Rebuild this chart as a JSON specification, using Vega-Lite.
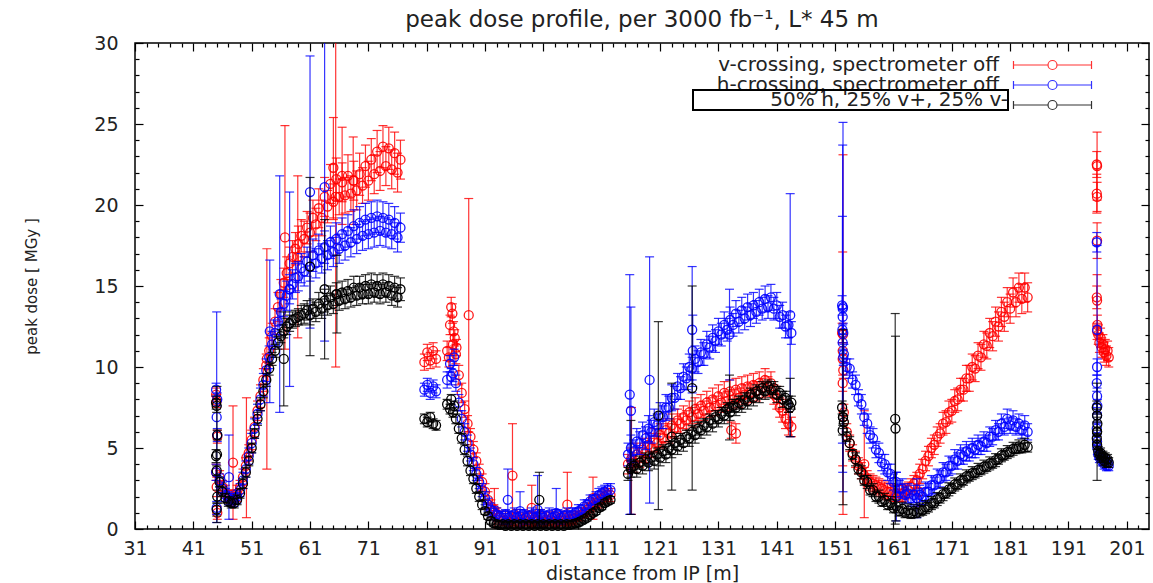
{
"$schema":"https://vega.github.io/schema/vega-lite/v6.json",
"width":1014,"height":486,
"autosize":{"type":"none"},
"padding":{"left":135,"top":43,"right":4,"bottom":54},
"background":"white",
"title":{"text":"peak dose profile, per 3000 fb⁻¹, L* 45 m","anchor":"middle","frame":"group","baseline":"alphabetic","offset":-16,"fontSize":23,"font":"DejaVu Sans","fontWeight":"normal","color":"#222"},
"data":{"values":[
{"d":44.9,"s":"v","y":8.3,"e":0.4},{"d":45,"s":"v","y":7.9,"e":0.4},{"d":45.1,"s":"v","y":5.7,"e":0.4},{"d":44.9,"s":"v","y":3.5,"e":0.5},{"d":45,"s":"v","y":2.6,"e":0.6},{"d":45.1,"s":"v","y":1,"e":0.4},
{"d":45.5,"s":"v","y":3.2,"e":0.4},{"d":46,"s":"v","y":2.6,"e":0.4},{"d":46.5,"s":"v","y":2.2,"e":0.5},{"d":47,"s":"v","y":2.0,"e":0.4},{"d":47.5,"s":"v","y":1.9,"e":0.5},{"d":48,"s":"v","y":2.0,"e":0.4},{"d":48.5,"s":"v","y":2.2,"e":0.5},{"d":49,"s":"v","y":2.6,"e":0.4},{"d":49.5,"s":"v","y":3.2,"e":0.5},{"d":50,"s":"v","y":3.9,"e":0.5},{"d":50.5,"s":"v","y":4.7,"e":0.5},{"d":51,"s":"v","y":5.5,"e":0.6},{"d":51.5,"s":"v","y":6.3,"e":0.6},{"d":52,"s":"v","y":7.3,"e":0.6},{"d":52.5,"s":"v","y":8.2,"e":0.7},{"d":53,"s":"v","y":9.2,"e":0.7},{"d":53.5,"s":"v","y":10.1,"e":0.7},{"d":54,"s":"v","y":11.0,"e":0.8},{"d":54.5,"s":"v","y":11.9,"e":0.8},{"d":55,"s":"v","y":12.8,"e":0.8},{"d":55.5,"s":"v","y":13.7,"e":0.9},{"d":56,"s":"v","y":14.5,"e":0.9},{"d":56.5,"s":"v","y":15.2,"e":0.9},{"d":57,"s":"v","y":15.8,"e":1.0},{"d":57.5,"s":"v","y":16.4,"e":1.0},{"d":58,"s":"v","y":16.8,"e":1.0},{"d":58.5,"s":"v","y":17.3,"e":1.0},{"d":59,"s":"v","y":17.6,"e":1.1},{"d":59.5,"s":"v","y":18.1,"e":1.0},{"d":60,"s":"v","y":17.9,"e":1.1},{"d":60.5,"s":"v","y":18.6,"e":1.0},{"d":61,"s":"v","y":18.3,"e":1.2},{"d":61.5,"s":"v","y":19.2,"e":1.1},{"d":62,"s":"v","y":18.8,"e":1.0},{"d":62.5,"s":"v","y":19.8,"e":1.2},{"d":63,"s":"v","y":19.2,"e":1.1},{"d":63.5,"s":"v","y":20.5,"e":1.2},{"d":64,"s":"v","y":19.9,"e":1.0},{"d":64.5,"s":"v","y":21.3,"e":1.2},{"d":65,"s":"v","y":20.2,"e":1.1},{"d":65.5,"s":"v","y":21.6,"e":1.3},{"d":66,"s":"v","y":20.5,"e":1.1},{"d":66.5,"s":"v","y":21.4,"e":1.2},{"d":67,"s":"v","y":20.6,"e":1.1},{"d":67.5,"s":"v","y":21.8,"e":1.3},{"d":68,"s":"v","y":20.7,"e":1.1},{"d":68.5,"s":"v","y":21.5,"e":1.2},{"d":69,"s":"v","y":20.9,"e":1.2},{"d":69.5,"s":"v","y":21.9,"e":1.3},{"d":70,"s":"v","y":21.2,"e":1.1},{"d":70.5,"s":"v","y":22.4,"e":1.3},{"d":71,"s":"v","y":21.5,"e":1.2},{"d":71.5,"s":"v","y":22.8,"e":1.3},{"d":72,"s":"v","y":21.9,"e":1.2},{"d":72.5,"s":"v","y":23.3,"e":1.3},{"d":73,"s":"v","y":22.1,"e":1.2},{"d":73.5,"s":"v","y":23.6,"e":1.3},{"d":74,"s":"v","y":22.4,"e":1.2},{"d":74.5,"s":"v","y":23.5,"e":1.3},{"d":75,"s":"v","y":22.2,"e":1.2},{"d":75.5,"s":"v","y":23.2,"e":1.3},{"d":76,"s":"v","y":22.0,"e":1.2},{"d":76.5,"s":"v","y":22.8,"e":1.2},
{"d":47.8,"s":"v","y":4.1,"e":3.5},{"d":50.1,"s":"v","y":4.4,"e":3.7},{"d":53.6,"s":"v","y":10.5,"e":6.8},{"d":56.7,"s":"v","y":18.0,"e":6.9},{"d":58.9,"s":"v","y":16.8,"e":5.0},{"d":65,"s":"v","y":22.3,"e":3.1},{"d":65.4,"s":"v","y":20.5,"e":10.5},{"d":66.5,"s":"v","y":21.8,"e":3.0},{"d":68.4,"s":"v","y":21.5,"e":2.7},
{"d":80.6,"s":"v","y":10.3,"e":0.5},{"d":81.1,"s":"v","y":10.9,"e":0.5},{"d":81.6,"s":"v","y":10.4,"e":0.5},{"d":82.1,"s":"v","y":11.0,"e":0.5},{"d":82.6,"s":"v","y":10.5,"e":0.5},
{"d":84.5,"s":"v","y":11.0,"e":0.6},{"d":85,"s":"v","y":12.6,"e":0.6},{"d":85.5,"s":"v","y":11.4,"e":0.6},{"d":86,"s":"v","y":10.8,"e":0.6},{"d":86.5,"s":"v","y":9.5,"e":0.6},{"d":87,"s":"v","y":8.4,"e":0.6},{"d":87.5,"s":"v","y":7.4,"e":0.5},{"d":88,"s":"v","y":6.5,"e":0.5},{"d":88.5,"s":"v","y":5.7,"e":0.5},{"d":89,"s":"v","y":4.9,"e":0.5},{"d":89.5,"s":"v","y":4.2,"e":0.5},{"d":90,"s":"v","y":3.5,"e":0.5},{"d":90.5,"s":"v","y":2.9,"e":0.5},{"d":91,"s":"v","y":2.3,"e":0.5},{"d":91.5,"s":"v","y":1.8,"e":0.5},{"d":92,"s":"v","y":1.4,"e":0.4},{"d":92.5,"s":"v","y":1.1,"e":0.4},{"d":93,"s":"v","y":0.9,"e":0.4},{"d":93.5,"s":"v","y":0.7,"e":0.4},{"d":94,"s":"v","y":0.5,"e":0.3},{"d":94.5,"s":"v","y":0.7,"e":0.4},{"d":95,"s":"v","y":0.4,"e":0.3},{"d":95.5,"s":"v","y":0.6,"e":0.4},{"d":96,"s":"v","y":0.5,"e":0.3},{"d":96.5,"s":"v","y":0.8,"e":0.4},{"d":97,"s":"v","y":0.4,"e":0.3},{"d":97.5,"s":"v","y":0.6,"e":0.4},{"d":98,"s":"v","y":0.5,"e":0.3},{"d":98.5,"s":"v","y":0.7,"e":0.4},{"d":99,"s":"v","y":0.4,"e":0.3},{"d":99.5,"s":"v","y":0.6,"e":0.4},{"d":100,"s":"v","y":0.5,"e":0.3},{"d":100.5,"s":"v","y":0.8,"e":0.4},{"d":101,"s":"v","y":0.4,"e":0.3},{"d":101.5,"s":"v","y":0.6,"e":0.4},{"d":102,"s":"v","y":0.5,"e":0.3},{"d":102.5,"s":"v","y":0.7,"e":0.4},{"d":103,"s":"v","y":0.4,"e":0.3},{"d":103.5,"s":"v","y":0.6,"e":0.4},{"d":104,"s":"v","y":0.5,"e":0.3},{"d":104.5,"s":"v","y":0.7,"e":0.4},{"d":105,"s":"v","y":0.5,"e":0.3},{"d":105.5,"s":"v","y":0.6,"e":0.4},{"d":106,"s":"v","y":0.6,"e":0.3},{"d":106.5,"s":"v","y":0.7,"e":0.4},{"d":107,"s":"v","y":0.8,"e":0.3},{"d":107.5,"s":"v","y":0.9,"e":0.4},{"d":108,"s":"v","y":1.0,"e":0.3},{"d":108.5,"s":"v","y":1.2,"e":0.4},{"d":109,"s":"v","y":1.3,"e":0.3},{"d":109.5,"s":"v","y":1.5,"e":0.4},{"d":110,"s":"v","y":1.6,"e":0.3},{"d":110.5,"s":"v","y":1.7,"e":0.4},{"d":111,"s":"v","y":1.9,"e":0.4},{"d":111.5,"s":"v","y":2.0,"e":0.4},{"d":112,"s":"v","y":2.1,"e":0.4},{"d":112.5,"s":"v","y":2.1,"e":0.4},
{"d":85.2,"s":"v","y":13.7,"e":0.6},{"d":85.4,"s":"v","y":13.3,"e":0.6},{"d":85.6,"s":"v","y":12.2,"e":0.6},{"d":85.8,"s":"v","y":11.8,"e":0.5},{"d":86.1,"s":"v","y":11.2,"e":0.5},{"d":84.8,"s":"v","y":10.6,"e":0.6},
{"d":88.2,"s":"v","y":13.2,"e":7.2},{"d":95.7,"s":"v","y":3.3,"e":3.2},{"d":105.1,"s":"v","y":1.5,"e":2.0},{"d":92.6,"s":"v","y":1.2,"e":1.3},{"d":99,"s":"v","y":1.3,"e":1.4},{"d":109.5,"s":"v","y":1.9,"e":1.3},
{"d":115.5,"s":"v","y":4.0,"e":0.6},{"d":116,"s":"v","y":4.3,"e":0.7},{"d":116.5,"s":"v","y":4.1,"e":0.6},{"d":117,"s":"v","y":4.6,"e":0.7},{"d":117.5,"s":"v","y":4.4,"e":0.6},{"d":118,"s":"v","y":4.9,"e":0.7},{"d":118.5,"s":"v","y":4.7,"e":0.6},{"d":119,"s":"v","y":5.2,"e":0.7},{"d":119.5,"s":"v","y":5.0,"e":0.6},{"d":120,"s":"v","y":5.5,"e":0.7},{"d":120.5,"s":"v","y":5.3,"e":0.6},{"d":121,"s":"v","y":5.8,"e":0.7},{"d":121.5,"s":"v","y":5.6,"e":0.6},{"d":122,"s":"v","y":6.1,"e":0.7},{"d":122.5,"s":"v","y":5.9,"e":0.6},{"d":123,"s":"v","y":6.4,"e":0.7},{"d":123.5,"s":"v","y":6.2,"e":0.6},{"d":124,"s":"v","y":6.7,"e":0.7},{"d":124.5,"s":"v","y":6.5,"e":0.6},{"d":125,"s":"v","y":6.9,"e":0.7},{"d":125.5,"s":"v","y":6.7,"e":0.6},{"d":126,"s":"v","y":7.2,"e":0.7},{"d":126.5,"s":"v","y":6.9,"e":0.6},{"d":127,"s":"v","y":7.4,"e":0.7},{"d":127.5,"s":"v","y":7.1,"e":0.6},{"d":128,"s":"v","y":7.6,"e":0.7},{"d":128.5,"s":"v","y":7.3,"e":0.6},{"d":129,"s":"v","y":7.8,"e":0.7},{"d":129.5,"s":"v","y":7.5,"e":0.6},{"d":130,"s":"v","y":8.0,"e":0.7},{"d":130.5,"s":"v","y":7.6,"e":0.6},{"d":131,"s":"v","y":8.2,"e":0.7},{"d":131.5,"s":"v","y":7.8,"e":0.6},{"d":132,"s":"v","y":8.4,"e":0.7},{"d":132.5,"s":"v","y":7.9,"e":0.6},{"d":133,"s":"v","y":8.5,"e":0.7},{"d":133.5,"s":"v","y":8.0,"e":0.6},{"d":134,"s":"v","y":8.6,"e":0.7},{"d":134.5,"s":"v","y":8.1,"e":0.6},{"d":135,"s":"v","y":8.7,"e":0.7},{"d":135.5,"s":"v","y":8.3,"e":0.6},{"d":136,"s":"v","y":8.8,"e":0.7},{"d":136.5,"s":"v","y":8.4,"e":0.6},{"d":137,"s":"v","y":8.9,"e":0.7},{"d":137.5,"s":"v","y":8.5,"e":0.6},{"d":138,"s":"v","y":9.0,"e":0.7},{"d":138.5,"s":"v","y":8.7,"e":0.6},{"d":139,"s":"v","y":9.2,"e":0.7},{"d":139.5,"s":"v","y":8.8,"e":0.6},{"d":140,"s":"v","y":9.0,"e":0.7},{"d":140.5,"s":"v","y":8.3,"e":0.6},{"d":141,"s":"v","y":8.1,"e":0.7},{"d":141.5,"s":"v","y":7.5,"e":0.6},{"d":142,"s":"v","y":7.3,"e":0.7},{"d":142.5,"s":"v","y":6.8,"e":0.6},{"d":143,"s":"v","y":6.5,"e":0.7},{"d":143.5,"s":"v","y":6.3,"e":0.6},
{"d":133.2,"s":"v","y":6.1,"e":0.5},{"d":134,"s":"v","y":5.9,"e":0.6},{"d":116.1,"s":"v","y":4.2,"e":3.3},
{"d":152.2,"s":"v","y":12.1,"e":0.6},{"d":152.3,"s":"v","y":11.0,"e":0.5},{"d":152.4,"s":"v","y":9.8,"e":0.5},{"d":152.3,"s":"v","y":9.0,"e":0.5},{"d":152.35,"s":"v","y":12.0,"e":11.1},{"d":152.3,"s":"v","y":10.5,"e":6.6},
{"d":152.5,"s":"v","y":7.2,"e":0.5},{"d":153,"s":"v","y":6.0,"e":0.5},{"d":153.5,"s":"v","y":5.3,"e":0.5},{"d":154,"s":"v","y":4.7,"e":0.5},{"d":154.5,"s":"v","y":4.3,"e":0.5},{"d":155,"s":"v","y":3.9,"e":0.5},{"d":155.5,"s":"v","y":3.6,"e":0.5},{"d":156,"s":"v","y":3.3,"e":0.5},{"d":156.5,"s":"v","y":3.1,"e":0.5},{"d":157,"s":"v","y":2.9,"e":0.5},{"d":157.5,"s":"v","y":2.8,"e":0.5},{"d":158,"s":"v","y":2.7,"e":0.5},{"d":158.5,"s":"v","y":2.6,"e":0.5},{"d":159,"s":"v","y":2.5,"e":0.5},{"d":159.5,"s":"v","y":2.4,"e":0.5},{"d":160,"s":"v","y":2.3,"e":0.5},{"d":160.5,"s":"v","y":2.3,"e":0.5},{"d":161,"s":"v","y":2.2,"e":0.5},{"d":161.5,"s":"v","y":2.2,"e":0.5},{"d":162,"s":"v","y":2.2,"e":0.5},{"d":162.5,"s":"v","y":2.2,"e":0.5},{"d":163,"s":"v","y":2.3,"e":0.5},{"d":163.5,"s":"v","y":2.4,"e":0.5},{"d":164,"s":"v","y":2.6,"e":0.5},{"d":164.5,"s":"v","y":2.8,"e":0.5},{"d":165,"s":"v","y":3.0,"e":0.5},{"d":165.5,"s":"v","y":3.4,"e":0.6},{"d":166,"s":"v","y":3.7,"e":0.6},{"d":166.5,"s":"v","y":4.2,"e":0.6},{"d":167,"s":"v","y":4.5,"e":0.6},{"d":167.5,"s":"v","y":5.0,"e":0.6},{"d":168,"s":"v","y":5.2,"e":0.6},{"d":168.5,"s":"v","y":5.7,"e":0.6},{"d":169,"s":"v","y":5.9,"e":0.6},{"d":169.5,"s":"v","y":6.5,"e":0.7},{"d":170,"s":"v","y":6.6,"e":0.7},{"d":170.5,"s":"v","y":7.2,"e":0.7},{"d":171,"s":"v","y":7.3,"e":0.7},{"d":171.5,"s":"v","y":7.9,"e":0.7},{"d":172,"s":"v","y":8.0,"e":0.7},{"d":172.5,"s":"v","y":8.6,"e":0.7},{"d":173,"s":"v","y":8.6,"e":0.7},{"d":173.5,"s":"v","y":9.3,"e":0.8},{"d":174,"s":"v","y":9.3,"e":0.8},{"d":174.5,"s":"v","y":10.0,"e":0.8},{"d":175,"s":"v","y":9.9,"e":0.8},{"d":175.5,"s":"v","y":10.7,"e":0.8},{"d":176,"s":"v","y":10.6,"e":0.8},{"d":176.5,"s":"v","y":11.4,"e":0.8},{"d":177,"s":"v","y":11.3,"e":0.8},{"d":177.5,"s":"v","y":12.1,"e":0.9},{"d":178,"s":"v","y":11.9,"e":0.9},{"d":178.5,"s":"v","y":12.8,"e":0.9},{"d":179,"s":"v","y":12.5,"e":0.9},{"d":179.5,"s":"v","y":13.4,"e":0.9},{"d":180,"s":"v","y":13.1,"e":0.9},{"d":180.5,"s":"v","y":14.0,"e":0.9},{"d":181,"s":"v","y":13.6,"e":0.9},{"d":181.5,"s":"v","y":14.6,"e":0.9},{"d":182,"s":"v","y":14.0,"e":0.9},{"d":182.5,"s":"v","y":14.9,"e":0.9},{"d":183,"s":"v","y":14.2,"e":0.9},{"d":183.5,"s":"v","y":14.9,"e":0.9},{"d":184,"s":"v","y":14.3,"e":0.9},
{"d":156,"s":"v","y":4.0,"e":3.3},{"d":165.4,"s":"v","y":2.3,"e":0.9},
{"d":195.85,"s":"v","y":22.5,"e":0.8},{"d":195.9,"s":"v","y":22.4,"e":2.1},{"d":195.85,"s":"v","y":20.7,"e":1.2},{"d":195.9,"s":"v","y":20.5,"e":0.9},{"d":195.9,"s":"v","y":17.8,"e":1.1},{"d":195.85,"s":"v","y":14.3,"e":0.7},{"d":195.9,"s":"v","y":14.1,"e":1.6},{"d":195.95,"s":"v","y":12.6,"e":0.6},{"d":195.9,"s":"v","y":12.2,"e":0.5},
{"d":196.1,"s":"v","y":12.0,"e":0.6},{"d":196.3,"s":"v","y":11.5,"e":0.6},{"d":196.5,"s":"v","y":11.8,"e":0.6},{"d":196.7,"s":"v","y":11.2,"e":0.6},{"d":196.9,"s":"v","y":11.4,"e":0.6},{"d":197.1,"s":"v","y":10.9,"e":0.6},{"d":197.3,"s":"v","y":11.1,"e":0.6},{"d":197.5,"s":"v","y":10.7,"e":0.6},{"d":197.7,"s":"v","y":11.0,"e":0.6},{"d":197.9,"s":"v","y":10.6,"e":0.6},

{"d":44.9,"s":"h","y":8.6,"e":0.4},{"d":45,"s":"h","y":6.9,"e":6.5},{"d":45.1,"s":"h","y":5.8,"e":0.4},{"d":44.9,"s":"h","y":3.5,"e":0.5},{"d":45,"s":"h","y":1.3,"e":0.4},{"d":45.1,"s":"h","y":8.0,"e":0.4},
{"d":45.5,"s":"h","y":3.0,"e":0.4},{"d":46,"s":"h","y":2.5,"e":0.4},{"d":46.5,"s":"h","y":2.1,"e":0.4},{"d":47,"s":"h","y":1.9,"e":0.4},{"d":47.5,"s":"h","y":1.8,"e":0.4},{"d":48,"s":"h","y":1.8,"e":0.4},{"d":48.5,"s":"h","y":2.0,"e":0.4},{"d":49,"s":"h","y":2.4,"e":0.4},{"d":49.5,"s":"h","y":3.0,"e":0.5},{"d":50,"s":"h","y":3.7,"e":0.5},{"d":50.5,"s":"h","y":4.5,"e":0.5},{"d":51,"s":"h","y":5.3,"e":0.6},{"d":51.5,"s":"h","y":6.2,"e":0.6},{"d":52,"s":"h","y":7.1,"e":0.6},{"d":52.5,"s":"h","y":8.0,"e":0.7},{"d":53,"s":"h","y":8.9,"e":0.7},{"d":53.5,"s":"h","y":9.8,"e":0.7},{"d":54,"s":"h","y":10.6,"e":0.7},{"d":54.5,"s":"h","y":11.4,"e":0.8},{"d":55,"s":"h","y":12.1,"e":0.8},{"d":55.5,"s":"h","y":12.8,"e":0.8},{"d":56,"s":"h","y":13.4,"e":0.8},{"d":56.5,"s":"h","y":13.9,"e":0.8},{"d":57,"s":"h","y":14.4,"e":0.9},{"d":57.5,"s":"h","y":14.8,"e":0.9},{"d":58,"s":"h","y":15.1,"e":0.9},{"d":58.5,"s":"h","y":15.5,"e":0.9},{"d":59,"s":"h","y":15.6,"e":0.9},{"d":59.5,"s":"h","y":16.1,"e":0.9},{"d":60,"s":"h","y":15.9,"e":0.9},{"d":60.5,"s":"h","y":16.5,"e":0.9},{"d":61,"s":"h","y":16.2,"e":0.9},{"d":61.5,"s":"h","y":16.9,"e":1.0},{"d":62,"s":"h","y":16.4,"e":0.9},{"d":62.5,"s":"h","y":17.2,"e":1.0},{"d":63,"s":"h","y":16.7,"e":0.9},{"d":63.5,"s":"h","y":17.4,"e":1.0},{"d":64,"s":"h","y":16.9,"e":0.9},{"d":64.5,"s":"h","y":17.7,"e":1.0},{"d":65,"s":"h","y":17.1,"e":0.9},{"d":65.5,"s":"h","y":17.9,"e":1.0},{"d":66,"s":"h","y":17.3,"e":0.9},{"d":66.5,"s":"h","y":18.2,"e":1.0},{"d":67,"s":"h","y":17.5,"e":0.9},{"d":67.5,"s":"h","y":18.4,"e":1.0},{"d":68,"s":"h","y":17.7,"e":0.9},{"d":68.5,"s":"h","y":18.7,"e":1.0},{"d":69,"s":"h","y":17.9,"e":0.9},{"d":69.5,"s":"h","y":18.9,"e":1.0},{"d":70,"s":"h","y":18.1,"e":0.9},{"d":70.5,"s":"h","y":19.1,"e":1.0},{"d":71,"s":"h","y":18.2,"e":0.9},{"d":71.5,"s":"h","y":19.2,"e":1.0},{"d":72,"s":"h","y":18.3,"e":0.9},{"d":72.5,"s":"h","y":19.3,"e":1.0},{"d":73,"s":"h","y":18.4,"e":0.9},{"d":73.5,"s":"h","y":19.2,"e":1.0},{"d":74,"s":"h","y":18.3,"e":0.9},{"d":74.5,"s":"h","y":19.1,"e":1.0},{"d":75,"s":"h","y":18.2,"e":0.9},{"d":75.5,"s":"h","y":18.9,"e":1.0},{"d":76,"s":"h","y":18.0,"e":0.9},{"d":76.5,"s":"h","y":18.6,"e":0.9},
{"d":47.1,"s":"h","y":3.2,"e":2.6},{"d":54.1,"s":"h","y":12.2,"e":4.4},{"d":55.8,"s":"h","y":14.5,"e":7.3},{"d":57.5,"s":"h","y":14.8,"e":6.0},{"d":61,"s":"h","y":20.8,"e":8.4},{"d":63.5,"s":"h","y":21.1,"e":9.5},
{"d":80.6,"s":"h","y":8.6,"e":0.4},{"d":81.1,"s":"h","y":8.9,"e":0.4},{"d":81.6,"s":"h","y":8.4,"e":0.4},{"d":82.1,"s":"h","y":8.8,"e":0.4},{"d":82.6,"s":"h","y":8.5,"e":0.4},
{"d":84.5,"s":"h","y":9.2,"e":0.5},{"d":85,"s":"h","y":10.2,"e":0.5},{"d":85.5,"s":"h","y":9.6,"e":0.5},{"d":86,"s":"h","y":9.0,"e":0.5},{"d":86.5,"s":"h","y":7.8,"e":0.5},{"d":87,"s":"h","y":6.8,"e":0.5},{"d":87.5,"s":"h","y":6.0,"e":0.5},{"d":88,"s":"h","y":5.3,"e":0.5},{"d":88.5,"s":"h","y":4.6,"e":0.4},{"d":89,"s":"h","y":4.0,"e":0.4},{"d":89.5,"s":"h","y":3.4,"e":0.4},{"d":90,"s":"h","y":2.9,"e":0.4},{"d":90.5,"s":"h","y":2.4,"e":0.4},{"d":91,"s":"h","y":1.9,"e":0.4},{"d":91.5,"s":"h","y":1.5,"e":0.4},{"d":92,"s":"h","y":1.2,"e":0.4},{"d":92.5,"s":"h","y":1.0,"e":0.4},{"d":93,"s":"h","y":0.9,"e":0.4},{"d":93.5,"s":"h","y":0.8,"e":0.3},{"d":94,"s":"h","y":0.7,"e":0.4},{"d":94.5,"s":"h","y":0.9,"e":0.3},{"d":95,"s":"h","y":0.7,"e":0.4},{"d":95.5,"s":"h","y":0.8,"e":0.3},{"d":96,"s":"h","y":0.9,"e":0.4},{"d":96.5,"s":"h","y":0.7,"e":0.3},{"d":97,"s":"h","y":0.8,"e":0.4},{"d":97.5,"s":"h","y":0.9,"e":0.3},{"d":98,"s":"h","y":0.7,"e":0.4},{"d":98.5,"s":"h","y":0.8,"e":0.3},{"d":99,"s":"h","y":0.9,"e":0.4},{"d":99.5,"s":"h","y":0.7,"e":0.3},{"d":100,"s":"h","y":0.8,"e":0.4},{"d":100.5,"s":"h","y":0.9,"e":0.3},{"d":101,"s":"h","y":0.7,"e":0.4},{"d":101.5,"s":"h","y":0.8,"e":0.3},{"d":102,"s":"h","y":0.9,"e":0.4},{"d":102.5,"s":"h","y":0.7,"e":0.3},{"d":103,"s":"h","y":0.8,"e":0.4},{"d":103.5,"s":"h","y":0.9,"e":0.3},{"d":104,"s":"h","y":0.7,"e":0.4},{"d":104.5,"s":"h","y":0.8,"e":0.3},{"d":105,"s":"h","y":0.9,"e":0.4},{"d":105.5,"s":"h","y":0.8,"e":0.3},{"d":106,"s":"h","y":0.9,"e":0.4},{"d":106.5,"s":"h","y":1.0,"e":0.3},{"d":107,"s":"h","y":1.1,"e":0.4},{"d":107.5,"s":"h","y":1.2,"e":0.3},{"d":108,"s":"h","y":1.4,"e":0.4},{"d":108.5,"s":"h","y":1.5,"e":0.3},{"d":109,"s":"h","y":1.7,"e":0.4},{"d":109.5,"s":"h","y":1.8,"e":0.3},{"d":110,"s":"h","y":1.9,"e":0.4},{"d":110.5,"s":"h","y":2.1,"e":0.4},{"d":111,"s":"h","y":2.2,"e":0.4},{"d":111.5,"s":"h","y":2.3,"e":0.4},{"d":112,"s":"h","y":2.4,"e":0.4},{"d":112.5,"s":"h","y":2.4,"e":0.4},
{"d":85.2,"s":"h","y":9.4,"e":0.5},{"d":85.7,"s":"h","y":10.6,"e":0.5},
{"d":94.9,"s":"h","y":1.8,"e":1.9},{"d":100,"s":"h","y":1.2,"e":2.1},{"d":103.2,"s":"h","y":1.0,"e":1.5},{"d":97,"s":"h","y":1.1,"e":1.2},
{"d":115.5,"s":"h","y":4.6,"e":0.7},{"d":116,"s":"h","y":5.0,"e":0.8},{"d":116.5,"s":"h","y":4.8,"e":0.7},{"d":117,"s":"h","y":5.4,"e":0.8},{"d":117.5,"s":"h","y":5.3,"e":0.7},{"d":118,"s":"h","y":5.8,"e":0.8},{"d":118.5,"s":"h","y":5.6,"e":0.7},{"d":119,"s":"h","y":6.2,"e":0.8},{"d":119.5,"s":"h","y":6.0,"e":0.7},{"d":120,"s":"h","y":6.6,"e":0.8},{"d":120.5,"s":"h","y":6.4,"e":0.7},{"d":121,"s":"h","y":7.0,"e":0.8},{"d":121.5,"s":"h","y":6.9,"e":0.7},{"d":122,"s":"h","y":7.5,"e":0.8},{"d":122.5,"s":"h","y":7.5,"e":0.7},{"d":123,"s":"h","y":8.1,"e":0.8},{"d":123.5,"s":"h","y":8.1,"e":0.7},{"d":124,"s":"h","y":8.8,"e":0.8},{"d":124.5,"s":"h","y":8.7,"e":0.7},{"d":125,"s":"h","y":9.4,"e":0.8},{"d":125.5,"s":"h","y":9.3,"e":0.7},{"d":126,"s":"h","y":10.0,"e":0.8},{"d":126.5,"s":"h","y":9.9,"e":0.7},{"d":127,"s":"h","y":10.5,"e":0.8},{"d":127.5,"s":"h","y":10.3,"e":0.7},{"d":128,"s":"h","y":10.9,"e":0.8},{"d":128.5,"s":"h","y":10.8,"e":0.7},{"d":129,"s":"h","y":11.4,"e":0.8},{"d":129.5,"s":"h","y":11.2,"e":0.7},{"d":130,"s":"h","y":11.8,"e":0.8},{"d":130.5,"s":"h","y":11.6,"e":0.7},{"d":131,"s":"h","y":12.2,"e":0.8},{"d":131.5,"s":"h","y":12.0,"e":0.7},{"d":132,"s":"h","y":12.6,"e":0.8},{"d":132.5,"s":"h","y":12.3,"e":0.7},{"d":133,"s":"h","y":12.9,"e":0.8},{"d":133.5,"s":"h","y":12.6,"e":0.7},{"d":134,"s":"h","y":13.3,"e":0.8},{"d":134.5,"s":"h","y":12.8,"e":0.7},{"d":135,"s":"h","y":13.5,"e":0.8},{"d":135.5,"s":"h","y":13.0,"e":0.7},{"d":136,"s":"h","y":13.7,"e":0.8},{"d":136.5,"s":"h","y":13.2,"e":0.7},{"d":137,"s":"h","y":13.8,"e":0.8},{"d":137.5,"s":"h","y":13.4,"e":0.7},{"d":138,"s":"h","y":14.0,"e":0.8},{"d":138.5,"s":"h","y":13.6,"e":0.7},{"d":139,"s":"h","y":14.2,"e":0.8},{"d":139.5,"s":"h","y":13.7,"e":0.7},{"d":140,"s":"h","y":14.3,"e":0.8},{"d":140.5,"s":"h","y":13.6,"e":0.7},{"d":141,"s":"h","y":13.8,"e":0.8},{"d":141.5,"s":"h","y":13.1,"e":0.7},{"d":142,"s":"h","y":13.2,"e":0.8},{"d":142.5,"s":"h","y":12.5,"e":0.7},{"d":143,"s":"h","y":12.6,"e":0.8},{"d":143.5,"s":"h","y":12.1,"e":0.7},
{"d":115.8,"s":"h","y":8.3,"e":7.4},{"d":116,"s":"h","y":7.3,"e":6.4},{"d":119.2,"s":"h","y":9.2,"e":7.6},{"d":126.5,"s":"h","y":12.3,"e":3.9},{"d":126.6,"s":"h","y":11.0,"e":2.2},{"d":132.9,"s":"h","y":12.0,"e":2.8},{"d":143.3,"s":"h","y":13.2,"e":7.5},
{"d":152.2,"s":"h","y":13.8,"e":0.6},{"d":152.3,"s":"h","y":13.1,"e":0.5},{"d":152.4,"s":"h","y":12.1,"e":0.6},{"d":152.3,"s":"h","y":11.5,"e":0.5},{"d":152.4,"s":"h","y":10.6,"e":0.5},{"d":152.35,"s":"h","y":13.7,"e":11.4},{"d":152.3,"s":"h","y":13.6,"e":10.1},{"d":152.25,"s":"h","y":12.3,"e":7.0},
{"d":152.5,"s":"h","y":10.8,"e":0.6},{"d":153,"s":"h","y":10.0,"e":0.5},{"d":153.5,"s":"h","y":9.9,"e":0.6},{"d":154,"s":"h","y":9.2,"e":0.5},{"d":154.5,"s":"h","y":8.9,"e":0.6},{"d":155,"s":"h","y":8.1,"e":0.5},{"d":155.5,"s":"h","y":7.7,"e":0.6},{"d":156,"s":"h","y":6.9,"e":0.5},{"d":156.5,"s":"h","y":6.5,"e":0.6},{"d":157,"s":"h","y":5.8,"e":0.5},{"d":157.5,"s":"h","y":5.6,"e":0.6},{"d":158,"s":"h","y":4.9,"e":0.5},{"d":158.5,"s":"h","y":4.7,"e":0.6},{"d":159,"s":"h","y":4.1,"e":0.5},{"d":159.5,"s":"h","y":4.0,"e":0.6},{"d":160,"s":"h","y":3.5,"e":0.5},{"d":160.5,"s":"h","y":3.4,"e":0.6},{"d":161,"s":"h","y":2.9,"e":0.5},{"d":161.5,"s":"h","y":2.9,"e":0.6},{"d":162,"s":"h","y":2.5,"e":0.5},{"d":162.5,"s":"h","y":2.5,"e":0.6},{"d":163,"s":"h","y":2.1,"e":0.5},{"d":163.5,"s":"h","y":2.2,"e":0.6},{"d":164,"s":"h","y":1.9,"e":0.5},{"d":164.5,"s":"h","y":2.1,"e":0.6},{"d":165,"s":"h","y":1.9,"e":0.5},{"d":165.5,"s":"h","y":2.1,"e":0.6},{"d":166,"s":"h","y":2.0,"e":0.5},{"d":166.5,"s":"h","y":2.3,"e":0.6},{"d":167,"s":"h","y":2.3,"e":0.5},{"d":167.5,"s":"h","y":2.7,"e":0.6},{"d":168,"s":"h","y":2.7,"e":0.5},{"d":168.5,"s":"h","y":3.1,"e":0.6},{"d":169,"s":"h","y":3.1,"e":0.5},{"d":169.5,"s":"h","y":3.5,"e":0.6},{"d":170,"s":"h","y":3.5,"e":0.5},{"d":170.5,"s":"h","y":3.9,"e":0.6},{"d":171,"s":"h","y":3.9,"e":0.5},{"d":171.5,"s":"h","y":4.3,"e":0.6},{"d":172,"s":"h","y":4.2,"e":0.5},{"d":172.5,"s":"h","y":4.6,"e":0.6},{"d":173,"s":"h","y":4.5,"e":0.5},{"d":173.5,"s":"h","y":4.8,"e":0.6},{"d":174,"s":"h","y":4.7,"e":0.5},{"d":174.5,"s":"h","y":5.0,"e":0.6},{"d":175,"s":"h","y":4.9,"e":0.5},{"d":175.5,"s":"h","y":5.2,"e":0.6},{"d":176,"s":"h","y":5.1,"e":0.5},{"d":176.5,"s":"h","y":5.4,"e":0.6},{"d":177,"s":"h","y":5.3,"e":0.5},{"d":177.5,"s":"h","y":5.7,"e":0.6},{"d":178,"s":"h","y":5.7,"e":0.5},{"d":178.5,"s":"h","y":6.1,"e":0.6},{"d":179,"s":"h","y":6.0,"e":0.5},{"d":179.5,"s":"h","y":6.5,"e":0.6},{"d":180,"s":"h","y":6.3,"e":0.5},{"d":180.5,"s":"h","y":6.8,"e":0.6},{"d":181,"s":"h","y":6.4,"e":0.5},{"d":181.5,"s":"h","y":6.7,"e":0.6},{"d":182,"s":"h","y":6.3,"e":0.5},{"d":182.5,"s":"h","y":6.5,"e":0.6},{"d":183,"s":"h","y":6.1,"e":0.5},{"d":183.5,"s":"h","y":6.4,"e":0.6},{"d":184,"s":"h","y":6.0,"e":0.5},
{"d":161.5,"s":"h","y":2.0,"e":1.5},{"d":165,"s":"h","y":1.9,"e":1.2},
{"d":195.85,"s":"h","y":17.7,"e":0.6},{"d":195.9,"s":"h","y":12.3,"e":5.2},{"d":195.9,"s":"h","y":10.0,"e":0.5},{"d":195.85,"s":"h","y":9.0,"e":0.5},{"d":195.9,"s":"h","y":8.2,"e":0.5},{"d":195.95,"s":"h","y":7.6,"e":0.4},{"d":195.9,"s":"h","y":7.0,"e":0.5},{"d":195.85,"s":"h","y":6.2,"e":0.4},{"d":195.9,"s":"h","y":5.4,"e":0.4},{"d":195.95,"s":"h","y":5.0,"e":0.4},
{"d":196.1,"s":"h","y":4.6,"e":0.3},{"d":196.3,"s":"h","y":4.4,"e":0.3},{"d":196.5,"s":"h","y":4.5,"e":0.3},{"d":196.7,"s":"h","y":4.2,"e":0.3},{"d":196.9,"s":"h","y":4.3,"e":0.3},{"d":197.1,"s":"h","y":4.0,"e":0.3},{"d":197.3,"s":"h","y":4.2,"e":0.3},{"d":197.5,"s":"h","y":3.9,"e":0.3},{"d":197.7,"s":"h","y":4.1,"e":0.3},{"d":197.9,"s":"h","y":3.9,"e":0.3},

{"d":44.9,"s":"b","y":7.8,"e":0.4},{"d":45,"s":"b","y":7.6,"e":0.4},{"d":45.1,"s":"b","y":5.8,"e":0.3},{"d":44.9,"s":"b","y":4.5,"e":0.4},{"d":45,"s":"b","y":3.6,"e":0.3},{"d":45.1,"s":"b","y":2.0,"e":0.4},{"d":45,"s":"b","y":1.2,"e":0.4},{"d":45.05,"s":"b","y":4.6,"e":4.2},
{"d":45.5,"s":"b","y":2.9,"e":0.3},{"d":46,"s":"b","y":2.3,"e":0.3},{"d":46.5,"s":"b","y":1.9,"e":0.3},{"d":47,"s":"b","y":1.7,"e":0.3},{"d":47.5,"s":"b","y":1.6,"e":0.3},{"d":48,"s":"b","y":1.6,"e":0.3},{"d":48.5,"s":"b","y":1.8,"e":0.3},{"d":49,"s":"b","y":2.2,"e":0.3},{"d":49.5,"s":"b","y":2.8,"e":0.3},{"d":50,"s":"b","y":3.5,"e":0.3},{"d":50.5,"s":"b","y":4.2,"e":0.3},{"d":51,"s":"b","y":5.0,"e":0.3},{"d":51.5,"s":"b","y":5.9,"e":0.3},{"d":52,"s":"b","y":6.8,"e":0.4},{"d":52.5,"s":"b","y":7.7,"e":0.4},{"d":53,"s":"b","y":8.5,"e":0.4},{"d":53.5,"s":"b","y":9.2,"e":0.4},{"d":54,"s":"b","y":9.9,"e":0.4},{"d":54.5,"s":"b","y":10.5,"e":0.4},{"d":55,"s":"b","y":11.0,"e":0.4},{"d":55.5,"s":"b","y":11.5,"e":0.4},{"d":56,"s":"b","y":11.9,"e":0.4},{"d":56.5,"s":"b","y":12.2,"e":0.4},{"d":57,"s":"b","y":12.5,"e":0.5},{"d":57.5,"s":"b","y":12.7,"e":0.5},{"d":58,"s":"b","y":12.9,"e":0.5},{"d":58.5,"s":"b","y":13.0,"e":0.5},{"d":59,"s":"b","y":13.1,"e":0.5},{"d":59.5,"s":"b","y":13.2,"e":0.6},{"d":60,"s":"b","y":13.3,"e":0.6},{"d":60.5,"s":"b","y":13.5,"e":0.6},{"d":61,"s":"b","y":13.2,"e":0.6},{"d":61.5,"s":"b","y":13.6,"e":0.6},{"d":62,"s":"b","y":13.4,"e":0.6},{"d":62.5,"s":"b","y":13.9,"e":0.7},{"d":63,"s":"b","y":13.6,"e":0.6},{"d":63.5,"s":"b","y":14.1,"e":0.7},{"d":64,"s":"b","y":13.8,"e":0.6},{"d":64.5,"s":"b","y":14.3,"e":0.7},{"d":65,"s":"b","y":13.9,"e":0.6},{"d":65.5,"s":"b","y":14.5,"e":0.7},{"d":66,"s":"b","y":14.1,"e":0.6},{"d":66.5,"s":"b","y":14.6,"e":0.7},{"d":67,"s":"b","y":14.2,"e":0.6},{"d":67.5,"s":"b","y":14.7,"e":0.7},{"d":68,"s":"b","y":14.3,"e":0.6},{"d":68.5,"s":"b","y":14.9,"e":0.7},{"d":69,"s":"b","y":14.4,"e":0.6},{"d":69.5,"s":"b","y":14.9,"e":0.7},{"d":70,"s":"b","y":14.5,"e":0.6},{"d":70.5,"s":"b","y":15.0,"e":0.7},{"d":71,"s":"b","y":14.5,"e":0.6},{"d":71.5,"s":"b","y":15.1,"e":0.7},{"d":72,"s":"b","y":14.6,"e":0.6},{"d":72.5,"s":"b","y":15.0,"e":0.7},{"d":73,"s":"b","y":14.5,"e":0.6},{"d":73.5,"s":"b","y":15.1,"e":0.7},{"d":74,"s":"b","y":14.6,"e":0.6},{"d":74.5,"s":"b","y":15.0,"e":0.7},{"d":75,"s":"b","y":14.4,"e":0.6},{"d":75.5,"s":"b","y":14.9,"e":0.7},{"d":76,"s":"b","y":14.3,"e":0.6},{"d":76.5,"s":"b","y":14.8,"e":0.7},
{"d":61,"s":"b","y":16.2,"e":5.5},{"d":63.5,"s":"b","y":14.8,"e":4.3},{"d":65.6,"s":"b","y":14.5,"e":2.4},{"d":56.5,"s":"b","y":10.5,"e":2.9},
{"d":80.6,"s":"b","y":6.8,"e":0.3},{"d":81.1,"s":"b","y":6.6,"e":0.3},{"d":81.6,"s":"b","y":6.9,"e":0.3},{"d":82.1,"s":"b","y":6.5,"e":0.3},{"d":82.6,"s":"b","y":6.4,"e":0.3},
{"d":84.5,"s":"b","y":7.7,"e":0.3},{"d":85,"s":"b","y":7.4,"e":0.3},{"d":85.5,"s":"b","y":7.2,"e":0.3},{"d":86,"s":"b","y":6.8,"e":0.3},{"d":86.5,"s":"b","y":6.2,"e":0.3},{"d":87,"s":"b","y":5.6,"e":0.3},{"d":87.5,"s":"b","y":4.9,"e":0.3},{"d":88,"s":"b","y":4.2,"e":0.3},{"d":88.5,"s":"b","y":3.6,"e":0.3},{"d":89,"s":"b","y":3.1,"e":0.3},{"d":89.5,"s":"b","y":2.5,"e":0.3},{"d":90,"s":"b","y":2.0,"e":0.3},{"d":90.5,"s":"b","y":1.5,"e":0.3},{"d":91,"s":"b","y":1.1,"e":0.2},{"d":91.5,"s":"b","y":0.8,"e":0.2},{"d":92,"s":"b","y":0.5,"e":0.2},{"d":92.5,"s":"b","y":0.35,"e":0.2},{"d":93,"s":"b","y":0.3,"e":0.2},{"d":93.5,"s":"b","y":0.25,"e":0.2},{"d":94,"s":"b","y":0.3,"e":0.2},{"d":94.5,"s":"b","y":0.2,"e":0.2},{"d":95,"s":"b","y":0.3,"e":0.2},{"d":95.5,"s":"b","y":0.2,"e":0.2},{"d":96,"s":"b","y":0.3,"e":0.2},{"d":96.5,"s":"b","y":0.2,"e":0.2},{"d":97,"s":"b","y":0.3,"e":0.2},{"d":97.5,"s":"b","y":0.2,"e":0.2},{"d":98,"s":"b","y":0.3,"e":0.2},{"d":98.5,"s":"b","y":0.2,"e":0.2},{"d":99,"s":"b","y":0.3,"e":0.2},{"d":99.5,"s":"b","y":0.2,"e":0.2},{"d":100,"s":"b","y":0.3,"e":0.2},{"d":100.5,"s":"b","y":0.2,"e":0.2},{"d":101,"s":"b","y":0.3,"e":0.2},{"d":101.5,"s":"b","y":0.2,"e":0.2},{"d":102,"s":"b","y":0.3,"e":0.2},{"d":102.5,"s":"b","y":0.2,"e":0.2},{"d":103,"s":"b","y":0.3,"e":0.2},{"d":103.5,"s":"b","y":0.2,"e":0.2},{"d":104,"s":"b","y":0.3,"e":0.2},{"d":104.5,"s":"b","y":0.2,"e":0.2},{"d":105,"s":"b","y":0.3,"e":0.2},{"d":105.5,"s":"b","y":0.25,"e":0.2},{"d":106,"s":"b","y":0.3,"e":0.2},{"d":106.5,"s":"b","y":0.35,"e":0.2},{"d":107,"s":"b","y":0.4,"e":0.2},{"d":107.5,"s":"b","y":0.5,"e":0.2},{"d":108,"s":"b","y":0.6,"e":0.2},{"d":108.5,"s":"b","y":0.7,"e":0.2},{"d":109,"s":"b","y":0.85,"e":0.2},{"d":109.5,"s":"b","y":1.0,"e":0.2},{"d":110,"s":"b","y":1.1,"e":0.2},{"d":110.5,"s":"b","y":1.3,"e":0.2},{"d":111,"s":"b","y":1.4,"e":0.2},{"d":111.5,"s":"b","y":1.6,"e":0.2},{"d":112,"s":"b","y":1.7,"e":0.2},{"d":112.5,"s":"b","y":1.8,"e":0.2},
{"d":85.2,"s":"b","y":8.0,"e":0.3},{"d":85.7,"s":"b","y":7.6,"e":0.3},{"d":100.3,"s":"b","y":1.8,"e":1.7},
{"d":115.5,"s":"b","y":3.4,"e":0.4},{"d":116,"s":"b","y":3.7,"e":0.5},{"d":116.5,"s":"b","y":3.9,"e":0.4},{"d":117,"s":"b","y":3.7,"e":0.5},{"d":117.5,"s":"b","y":4.1,"e":0.4},{"d":118,"s":"b","y":3.9,"e":0.5},{"d":118.5,"s":"b","y":4.3,"e":0.4},{"d":119,"s":"b","y":4.1,"e":0.5},{"d":119.5,"s":"b","y":4.4,"e":0.4},{"d":120,"s":"b","y":4.2,"e":0.5},{"d":120.5,"s":"b","y":4.6,"e":0.4},{"d":121,"s":"b","y":4.4,"e":0.5},{"d":121.5,"s":"b","y":4.8,"e":0.4},{"d":122,"s":"b","y":4.6,"e":0.5},{"d":122.5,"s":"b","y":5.0,"e":0.4},{"d":123,"s":"b","y":4.9,"e":0.5},{"d":123.5,"s":"b","y":5.3,"e":0.4},{"d":124,"s":"b","y":5.1,"e":0.5},{"d":124.5,"s":"b","y":5.5,"e":0.4},{"d":125,"s":"b","y":5.3,"e":0.5},{"d":125.5,"s":"b","y":5.7,"e":0.4},{"d":126,"s":"b","y":5.6,"e":0.5},{"d":126.5,"s":"b","y":6.0,"e":0.4},{"d":127,"s":"b","y":5.8,"e":0.5},{"d":127.5,"s":"b","y":6.2,"e":0.4},{"d":128,"s":"b","y":6.1,"e":0.5},{"d":128.5,"s":"b","y":6.4,"e":0.4},{"d":129,"s":"b","y":6.3,"e":0.5},{"d":129.5,"s":"b","y":6.7,"e":0.4},{"d":130,"s":"b","y":6.5,"e":0.5},{"d":130.5,"s":"b","y":6.9,"e":0.4},{"d":131,"s":"b","y":6.8,"e":0.5},{"d":131.5,"s":"b","y":7.1,"e":0.4},{"d":132,"s":"b","y":7.0,"e":0.5},{"d":132.5,"s":"b","y":7.4,"e":0.4},{"d":133,"s":"b","y":7.2,"e":0.5},{"d":133.5,"s":"b","y":7.6,"e":0.4},{"d":134,"s":"b","y":7.5,"e":0.5},{"d":134.5,"s":"b","y":7.8,"e":0.4},{"d":135,"s":"b","y":7.7,"e":0.5},{"d":135.5,"s":"b","y":8.0,"e":0.4},{"d":136,"s":"b","y":7.9,"e":0.5},{"d":136.5,"s":"b","y":8.3,"e":0.4},{"d":137,"s":"b","y":8.1,"e":0.5},{"d":137.5,"s":"b","y":8.5,"e":0.4},{"d":138,"s":"b","y":8.3,"e":0.5},{"d":138.5,"s":"b","y":8.7,"e":0.4},{"d":139,"s":"b","y":8.5,"e":0.5},{"d":139.5,"s":"b","y":8.8,"e":0.4},{"d":140,"s":"b","y":8.6,"e":0.5},{"d":140.5,"s":"b","y":8.7,"e":0.4},{"d":141,"s":"b","y":8.3,"e":0.5},{"d":141.5,"s":"b","y":8.4,"e":0.4},{"d":142,"s":"b","y":8.0,"e":0.5},{"d":142.5,"s":"b","y":8.1,"e":0.4},{"d":143,"s":"b","y":7.7,"e":0.5},{"d":143.5,"s":"b","y":7.8,"e":0.4},
{"d":120.7,"s":"b","y":7.0,"e":5.8},{"d":123,"s":"b","y":5.7,"e":3.3},{"d":126.5,"s":"b","y":8.7,"e":6.3},{"d":132.9,"s":"b","y":7.5,"e":2.0},{"d":143.3,"s":"b","y":7.5,"e":1.8},{"d":116,"s":"b","y":3.8,"e":2.9},
{"d":152.2,"s":"b","y":7.5,"e":0.4},{"d":152.35,"s":"b","y":6.9,"e":0.4},{"d":152.3,"s":"b","y":6.1,"e":0.3},{"d":152.35,"s":"b","y":6.9,"e":5.4},
{"d":152.5,"s":"b","y":6.6,"e":0.4},{"d":153,"s":"b","y":5.7,"e":0.3},{"d":153.5,"s":"b","y":5.3,"e":0.4},{"d":154,"s":"b","y":4.6,"e":0.3},{"d":154.5,"s":"b","y":4.3,"e":0.4},{"d":155,"s":"b","y":3.7,"e":0.3},{"d":155.5,"s":"b","y":3.5,"e":0.4},{"d":156,"s":"b","y":3.0,"e":0.3},{"d":156.5,"s":"b","y":2.9,"e":0.4},{"d":157,"s":"b","y":2.4,"e":0.3},{"d":157.5,"s":"b","y":2.4,"e":0.4},{"d":158,"s":"b","y":2.0,"e":0.3},{"d":158.5,"s":"b","y":2.0,"e":0.4},{"d":159,"s":"b","y":1.7,"e":0.3},{"d":159.5,"s":"b","y":1.8,"e":0.4},{"d":160,"s":"b","y":1.5,"e":0.3},{"d":160.5,"s":"b","y":1.6,"e":0.4},{"d":161,"s":"b","y":1.3,"e":0.3},{"d":161.5,"s":"b","y":1.4,"e":0.4},{"d":162,"s":"b","y":1.1,"e":0.3},{"d":162.5,"s":"b","y":1.25,"e":0.4},{"d":163,"s":"b","y":1.0,"e":0.3},{"d":163.5,"s":"b","y":1.15,"e":0.4},{"d":164,"s":"b","y":0.95,"e":0.3},{"d":164.5,"s":"b","y":1.1,"e":0.4},{"d":165,"s":"b","y":1.0,"e":0.3},{"d":165.5,"s":"b","y":1.2,"e":0.4},{"d":166,"s":"b","y":1.15,"e":0.3},{"d":166.5,"s":"b","y":1.35,"e":0.4},{"d":167,"s":"b","y":1.35,"e":0.3},{"d":167.5,"s":"b","y":1.6,"e":0.4},{"d":168,"s":"b","y":1.6,"e":0.3},{"d":168.5,"s":"b","y":1.85,"e":0.4},{"d":169,"s":"b","y":1.9,"e":0.3},{"d":169.5,"s":"b","y":2.15,"e":0.4},{"d":170,"s":"b","y":2.2,"e":0.3},{"d":170.5,"s":"b","y":2.45,"e":0.4},{"d":171,"s":"b","y":2.5,"e":0.3},{"d":171.5,"s":"b","y":2.75,"e":0.4},{"d":172,"s":"b","y":2.75,"e":0.3},{"d":172.5,"s":"b","y":3.0,"e":0.4},{"d":173,"s":"b","y":3.0,"e":0.3},{"d":173.5,"s":"b","y":3.25,"e":0.4},{"d":174,"s":"b","y":3.25,"e":0.3},{"d":174.5,"s":"b","y":3.45,"e":0.4},{"d":175,"s":"b","y":3.45,"e":0.3},{"d":175.5,"s":"b","y":3.65,"e":0.4},{"d":176,"s":"b","y":3.65,"e":0.3},{"d":176.5,"s":"b","y":3.85,"e":0.4},{"d":177,"s":"b","y":3.85,"e":0.3},{"d":177.5,"s":"b","y":4.05,"e":0.4},{"d":178,"s":"b","y":4.05,"e":0.3},{"d":178.5,"s":"b","y":4.25,"e":0.4},{"d":179,"s":"b","y":4.3,"e":0.3},{"d":179.5,"s":"b","y":4.55,"e":0.4},{"d":180,"s":"b","y":4.55,"e":0.3},{"d":180.5,"s":"b","y":4.75,"e":0.4},{"d":181,"s":"b","y":4.75,"e":0.3},{"d":181.5,"s":"b","y":4.95,"e":0.4},{"d":182,"s":"b","y":4.95,"e":0.3},{"d":182.5,"s":"b","y":5.1,"e":0.4},{"d":183,"s":"b","y":5.0,"e":0.3},{"d":183.5,"s":"b","y":5.2,"e":0.4},{"d":184,"s":"b","y":5.05,"e":0.3},
{"d":161.3,"s":"b","y":6.8,"e":6.5},{"d":161.35,"s":"b","y":6.2,"e":5.7},
{"d":195.85,"s":"b","y":7.5,"e":0.4},{"d":195.9,"s":"b","y":7.0,"e":0.4},{"d":195.95,"s":"b","y":6.5,"e":0.4},{"d":195.9,"s":"b","y":6.0,"e":0.3},{"d":195.85,"s":"b","y":5.6,"e":0.3},{"d":195.9,"s":"b","y":5.2,"e":0.3},{"d":195.9,"s":"b","y":6.0,"e":3.0},
{"d":196.1,"s":"b","y":4.8,"e":0.3},{"d":196.3,"s":"b","y":4.6,"e":0.3},{"d":196.5,"s":"b","y":4.7,"e":0.3},{"d":196.7,"s":"b","y":4.4,"e":0.3},{"d":196.9,"s":"b","y":4.5,"e":0.3},{"d":197.1,"s":"b","y":4.2,"e":0.3},{"d":197.3,"s":"b","y":4.4,"e":0.3},{"d":197.5,"s":"b","y":4.1,"e":0.3},{"d":197.7,"s":"b","y":4.3,"e":0.3},{"d":197.9,"s":"b","y":4.1,"e":0.3}
]},
"layer":[
{"transform":[{"filter":"datum.s=='v'"}],
 "mark":{"type":"errorbar","ticks":{"size":9},"thickness":1.2,"clip":true,"opacity":0.8},
 "encoding":{"x":{"field":"d","type":"quantitative","scale":{"domain":[31,204.8],"nice":false,"zero":false},"axis":null},
  "y":{"field":"y","type":"quantitative","scale":{"domain":[0,30],"nice":false,"zero":false},"axis":null},
  "yError":{"field":"e"},
  "color":{"field":"s","type":"nominal","scale":{"domain":["v","h","b"],"range":["#ff0000","#0000ff","#000000"]}}}},
{"transform":[{"filter":"datum.s=='v'"}],
 "mark":{"type":"point","shape":"circle","filled":false,"size":81,"strokeWidth":1.3,"opacity":0.9},
 "encoding":{"x":{"field":"d","type":"quantitative","scale":{"domain":[31,204.8],"nice":false,"zero":false},
   "axis":{"orient":"bottom","values":[31,33,35,37,39,41,43,45,47,49,51,53,55,57,59,61,63,65,67,69,71,73,75,77,79,81,83,85,87,89,91,93,95,97,99,101,103,105,107,109,111,113,115,117,119,121,123,125,127,129,131,133,135,137,139,141,143,145,147,149,151,153,155,157,159,161,163,165,167,169,171,173,175,177,179,181,183,185,187,189,191,193,195,197,199,201,203],
    "labelExpr":"(datum.value-31)%10==0 ? datum.label : ''","format":"d","labelOverlap":false,"labelFlush":false,
    "tickSize":{"condition":{"test":"(datum.value-31)%10==0","value":-8},"value":-4},
    "labelPadding":18,"title":"distance from IP [m]","titlePadding":2}},
  "y":{"field":"y","type":"quantitative","scale":{"domain":[0,30],"nice":false,"zero":false},
   "axis":{"orient":"left","values":[0,1,2,3,4,5,6,7,8,9,10,11,12,13,14,15,16,17,18,19,20,21,22,23,24,25,26,27,28,29,30],
    "labelExpr":"datum.value%5==0 ? datum.label : ''","format":"d","labelOverlap":false,"labelFlush":false,
    "tickSize":{"condition":{"test":"datum.value%5==0","value":-8},"value":-4},
    "labelPadding":25,"title":"peak dose [ MGy ]","titleFontSize":15,"titlePadding":54}},
  "color":{"field":"s","type":"nominal","scale":{"domain":["v","h","b"],"range":["#ff0000","#0000ff","#000000"]},
   "legend":{"orient":"none","legendX":907.5,"legendY":12,"title":null,"padding":0,"rowPadding":-7.8,
    "symbolType":"M-8.67,0H-1M1,0H8.67M-8.67,-0.9V0.9M8.67,-0.9V0.9M1,0A1,1,0,1,1,-1,0A1,1,0,1,1,1,0M1,0A1,1,0,1,0,-1,0A1,1,0,1,0,1,0",
    "symbolSize":81,"symbolStrokeWidth":1.2,"symbolFillColor":"transparent","symbolOpacity":0.6,
    "labelAlign":"right","labelOffset":-63.5,"labelLimit":1000,"labelFontSize":20,"labelColor":"#222",
    "labelExpr":"datum.value=='v' ? 'v-crossing, spectrometer off' : datum.value=='h' ? 'h-crossing, spectrometer off' : ' '"}}}},
{"transform":[{"filter":"datum.s=='h'"}],
 "mark":{"type":"errorbar","ticks":{"size":9},"thickness":1.2,"clip":true,"opacity":0.8},
 "encoding":{"x":{"field":"d","type":"quantitative","scale":{"domain":[31,204.8],"nice":false,"zero":false},"axis":null},
  "y":{"field":"y","type":"quantitative","scale":{"domain":[0,30],"nice":false,"zero":false},"axis":null},
  "yError":{"field":"e"},
  "color":{"field":"s","type":"nominal","scale":{"domain":["v","h","b"],"range":["#ff0000","#0000ff","#000000"]}}}},
{"transform":[{"filter":"datum.s=='h'"}],
 "mark":{"type":"point","shape":"circle","filled":false,"size":81,"strokeWidth":1.3,"opacity":0.9},
 "encoding":{"x":{"field":"d","type":"quantitative","scale":{"domain":[31,204.8],"nice":false,"zero":false},
   "axis":{"orient":"top","values":[31,33,35,37,39,41,43,45,47,49,51,53,55,57,59,61,63,65,67,69,71,73,75,77,79,81,83,85,87,89,91,93,95,97,99,101,103,105,107,109,111,113,115,117,119,121,123,125,127,129,131,133,135,137,139,141,143,145,147,149,151,153,155,157,159,161,163,165,167,169,171,173,175,177,179,181,183,185,187,189,191,193,195,197,199,201,203],
    "labels":false,"title":null,
    "tickSize":{"condition":{"test":"(datum.value-31)%10==0","value":-8},"value":-4}}},
  "y":{"field":"y","type":"quantitative","scale":{"domain":[0,30],"nice":false,"zero":false},
   "axis":{"orient":"right","values":[0,1,2,3,4,5,6,7,8,9,10,11,12,13,14,15,16,17,18,19,20,21,22,23,24,25,26,27,28,29,30],
    "labels":false,"title":null,
    "tickSize":{"condition":{"test":"datum.value%5==0","value":-8},"value":-4}}},
  "color":{"field":"s","type":"nominal","scale":{"domain":["v","h","b"],"range":["#ff0000","#0000ff","#000000"]}}}},
{"transform":[{"filter":"datum.s=='b'"}],
 "mark":{"type":"errorbar","ticks":{"size":9},"thickness":1.2,"clip":true,"opacity":0.8},
 "encoding":{"x":{"field":"d","type":"quantitative","scale":{"domain":[31,204.8],"nice":false,"zero":false},"axis":null},
  "y":{"field":"y","type":"quantitative","scale":{"domain":[0,30],"nice":false,"zero":false},"axis":null},
  "yError":{"field":"e"},
  "color":{"field":"s","type":"nominal","scale":{"domain":["v","h","b"],"range":["#ff0000","#0000ff","#000000"]}}}},
{"transform":[{"filter":"datum.s=='b'"}],
 "mark":{"type":"point","shape":"circle","filled":false,"size":81,"strokeWidth":1.3},
 "encoding":{"x":{"field":"d","type":"quantitative","scale":{"domain":[31,204.8],"nice":false,"zero":false},"axis":null},
  "y":{"field":"y","type":"quantitative","scale":{"domain":[0,30],"nice":false,"zero":false},"axis":null},
  "color":{"field":"s","type":"nominal","scale":{"domain":["v","h","b"],"range":["#ff0000","#0000ff","#000000"]}},
  "opacity":{"field":"s","type":"ordinal","scale":{"domain":["b"],"range":[0.9]},
   "legend":{"orient":"none","legendX":558,"legendY":47,"title":null,"padding":0,"strokeColor":"#000",
    "symbolSize":0,"labelAlign":"right","labelOffset":295,"labelLimit":1000,"labelFontSize":20,"labelColor":"#222",
    "labelExpr":"'50% h, 25% v+, 25% v-  '"}}}}
],
"resolve":{"axis":{"x":"independent","y":"independent"}},
"config":{
 "font":"DejaVu Sans",
 "view":{"stroke":"#000","strokeWidth":1.5},
 "axis":{"grid":false,"domain":false,"labelFont":"DejaVu Sans","labelFontSize":19,"labelColor":"#222","tickColor":"#000","tickWidth":1.2,"titleFont":"DejaVu Sans","titleFontSize":19,"titleFontWeight":"normal","titleColor":"#222"},
 "legend":{"labelFont":"DejaVu Sans","strokeWidth":2}
}
}
